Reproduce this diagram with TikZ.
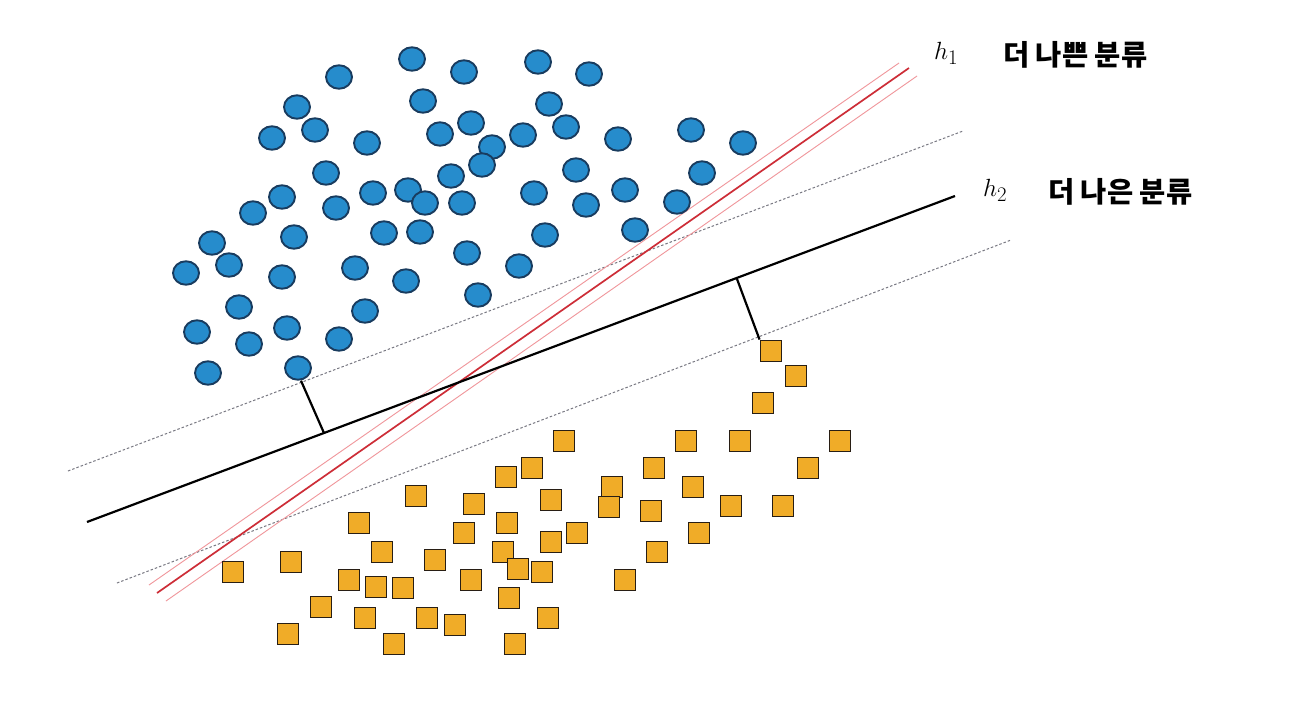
\documentclass[tikz,border=0pt]{standalone}
\usepackage{fontspec}
\newfontfamily\kr{Noto Sans CJK KR}
\usetikzlibrary{shapes.geometric}
\definecolor{dotblue}{RGB}{38,140,204}
\definecolor{dotedge}{RGB}{25,60,95}
\definecolor{sqfill}{RGB}{240,172,40}
\definecolor{sqedge}{RGB}{40,30,20}
\definecolor{redline}{RGB}{205,45,55}
\definecolor{pinkline}{RGB}{240,150,155}
\definecolor{marginline}{RGB}{120,120,130}
\tikzset{
  bluedot/.style={ellipse,draw=dotedge,fill=dotblue,line width=1.9pt,minimum width=26pt,minimum height=23.5pt,inner sep=0pt},
  orangesq/.style={rectangle,draw=sqedge,fill=sqfill,line width=1.9pt,minimum size=21pt,inner sep=0pt},
  hyper/.style={line width=2.2pt,black},
  margin/.style={line width=1pt,marginline,dash pattern=on 2.5pt off 2pt},
  redhyp/.style={line width=1.7pt,redline},
  pinkhyp/.style={line width=0.9pt,pinkline},
  perp/.style={line width=2.2pt,black},
  krlabel/.style={anchor=west,inner sep=0pt,font=\kr\bfseries\fontsize{28.5}{32}\selectfont},
  hlabel/.style={anchor=west,inner sep=0pt,font=\fontsize{28}{32}\selectfont}
}
\begin{document}
\begin{tikzpicture}[x=1pt,y=-1pt]
\useasboundingbox (0,0) rectangle (1302,721);
\fill[white] (0,0) rectangle (1302,721);

% margins and hyperplanes
\coordinate (mu1) at (68,471);
\coordinate (mu2) at (963,131);
\coordinate (ml1) at (117,583);
\coordinate (ml2) at (1011,240);
\coordinate (h2a) at (87,522);
\coordinate (h2b) at (955,196);
\coordinate (r1) at (157,593);
\coordinate (r2) at (909,68);
\coordinate (pa1) at (149,585);
\coordinate (pa2) at (899,63);
\coordinate (pb1) at (166,601);
\coordinate (pb2) at (917,76);
\draw[margin] (mu1) -- (mu2);
\draw[margin] (ml1) -- (ml2);
\draw[pinkhyp] (pa1) -- (pa2);
\draw[pinkhyp] (pb1) -- (pb2);
\draw[redhyp] (r1) -- (r2);
\draw[hyper] (h2a) -- (h2b);

% blue circles
\foreach \x/\y [count=\i] in {
412/59,464/72,538/62,589/74,339/77,
297/107,423/101,549/104,
272/138,315/130,367/143,440/134,471/123,523/135,566/127,618/139,691/130,743/143,
492/147,
326/173,482/165,451/176,576/170,702/173,
282/197,373/193,408/190,336/208,425/203,462/203,534/193,625/190,586/205,677/202,
253/213,212/243,294/237,384/233,420/232,545/235,635/230,
229/265,186/273,282/277,355/268,406/281,467/253,519/266,478/295,
239/307,197/332,249/344,287/328,365/311,339/339,
208/373,298/368}
  \node[bluedot] (c\i) at (\x,\y) {};

% orange squares
\foreach \x/\y [count=\i] in {
771/351,796/376,763/403,564/441,686/441,740/441,840/441,
532/468,654/468,808/468,506/477,416/496,474/504,551/500,612/487,693/487,
609/507,651/511,731/506,783/506,359/523,464/533,507/523,577/533,699/533,
551/542,382/552,435/560,503/552,657/552,233/572,291/562,349/580,376/587,
403/588,471/580,518/569,542/572,625/580,321/607,365/618,427/618,455/625,
509/598,548/618,288/634,394/644,515/644}
  \node[orangesq] (s\i) at (\x,\y) {};

% perpendicular distances to h2
\coordinate (f1) at (324,433);
\coordinate (f2) at (737,279);
\draw[perp] (c57.south) ++(3,0) -- (f1);
\draw[perp] (f2) -- (s1.north west);

% labels
\node[hlabel] (h1lab) at (934,53) {$h_1$};
\node[krlabel] (t1) at (1003,55) {더 나쁜 분류};
\node[hlabel] (h2lab) at (983,190) {$h_2$};
\node[krlabel] (t2) at (1048,192) {더 나은 분류};
\end{tikzpicture}
\end{document}
